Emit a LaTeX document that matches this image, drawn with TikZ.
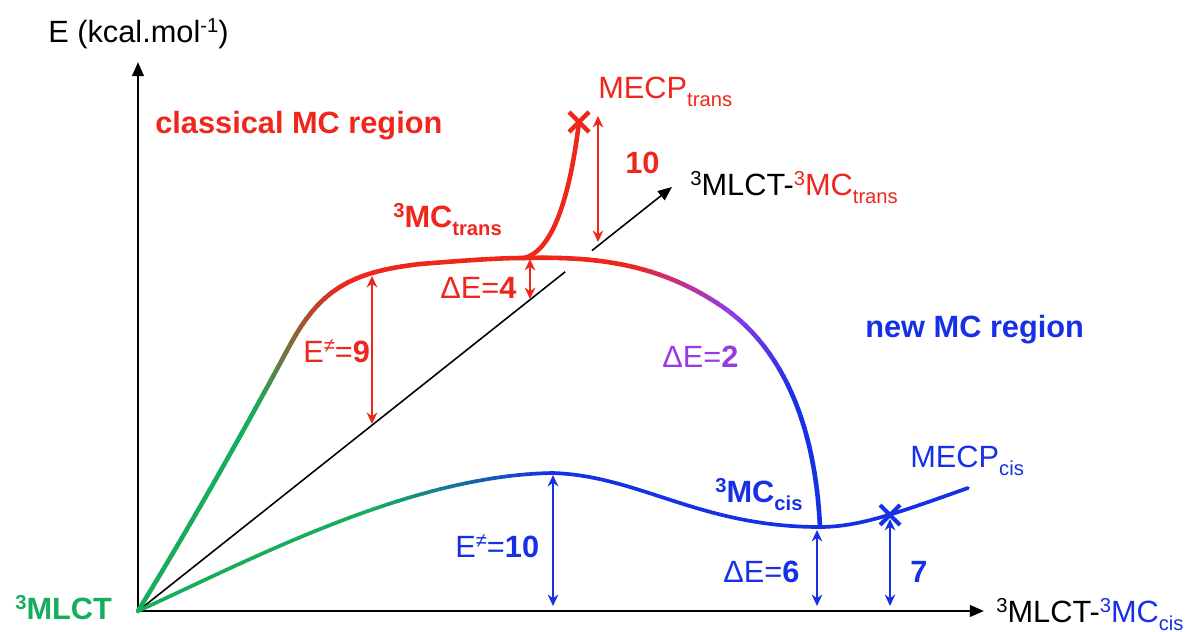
\documentclass[tikz,border=0pt]{standalone}
\usepackage{fontspec}
\setmainfont{Liberation Sans}
\usetikzlibrary{arrows.meta,decorations.markings,calc}
\definecolor{cred}{RGB}{238,38,28}
\definecolor{cblue}{RGB}{22,48,230}
\definecolor{cgreen}{RGB}{22,174,92}
\definecolor{cpurple}{RGB}{150,60,230}
\newcommand\lsup[1]{\raisebox{0.32em}{\fontsize{11.5}{12}\selectfont #1}}
\newcommand\lsub[1]{\raisebox{-0.27em}{\fontsize{11.5}{12}\selectfont #1}}
\tikzset{
  lbl/.style={font=\fontsize{17.5}{21}\selectfont, inner sep=0pt, anchor=base west},
  lblb/.style={font=\fontsize{17.5}{21}\selectfont\bfseries, inner sep=0pt, anchor=base west},
  ax/.style={line width=1.4pt, -{Triangle[length=8pt,width=6.5pt]}},
  diag/.style={line width=0.9pt},
  pes/.style={line width=2.6pt, line cap=round, line join=round},
  pesl/.style={line width=2.1pt, line cap=round, line join=round},
  dbl/.style={{Stealth[length=6.5pt,width=6pt]}-{Stealth[length=6.5pt,width=6pt]}, line width=1.1pt},
  sample/.style={decoration={markings, mark=between positions 0 and 1 step 0.02 with {\coordinate (#1-\pgfkeysvalueof{/pgf/decoration/mark info/sequence number});}}, decorate}
}
% gradient run: prefix, from, to, colA, colB, style
\newcommand\gradrun[6]{%
  \foreach \gi in {#2,...,#3}{%
    \pgfmathtruncatemacro\gj{\gi+1}%
    \pgfmathtruncatemacro\gp{100*(\gi-#2)/(#3-#2+1)}%
    \draw[#6, draw={#5!\gp!#4}] (#1-\gi) -- (#1-\gj);
  }}
\begin{document}
\begin{tikzpicture}[x=0.02cm,y=-0.02cm]
\useasboundingbox (0,0) rectangle (1187,632);
% key points
\coordinate (O) at (138,611);
\coordinate (Ytop) at (138,62);
\coordinate (Xend) at (984,611);
\coordinate (D) at (672,187);
\coordinate (Tm) at (420,264);
\coordinate (Tj) at (524,258);
\coordinate (Mt) at (579,122);
\coordinate (Cm) at (820,527);
\coordinate (Lm) at (553,473);
\coordinate (Mc) at (890,515);
\coordinate (Le) at (968,488);
% axes
\draw[ax] (O) -- (Ytop);
\draw[ax] (O) -- (Xend);
\draw[diag] (O) -- ($(O)!0.80!(D)$);
\draw[diag, -{Triangle[length=8pt,width=6.5pt]}] ($(O)!0.85!(D)$) -- (D);
% arrows
\coordinate (e9t) at (372,276); \coordinate (e9b) at (372,424);
\coordinate (e4t) at (530,259); \coordinate (e4b) at (530,299);
\coordinate (a10t) at (598,116); \coordinate (a10b) at (598,242);
\coordinate (e10t) at (553,475); \coordinate (e10b) at (553,606);
\coordinate (e6t) at (817,530); \coordinate (e6b) at (817,606);
\coordinate (a7t) at (890,519); \coordinate (a7b) at (890,606);
\draw[dbl, cred] (e9t) -- (e9b);
\draw[dbl, cred] (e4t) -- (e4b);
\draw[dbl, cred] (a10t) -- (a10b);
\draw[dbl, cblue] (e10t) -- (e10b);
\draw[dbl, cblue] (e6t) -- (e6b);
\draw[dbl, cblue] (a7t) -- (a7b);
% upper curve, part A (green -> red)
\path[sample=ua] (O) .. controls (200,510) and (255,410) .. (290,345) .. controls (320,290) and (350,272) .. (Tm);
\gradrun{ua}{1}{24}{cgreen}{cgreen}{pes}
\gradrun{ua}{25}{41}{cgreen}{cred}{pes}
\gradrun{ua}{42}{49}{cred}{cred}{pes}
\draw[pes, cred] (ua-50) -- (Tm);
% part B
\draw[pes, cred] (Tm) .. controls (470,260) and (500,258) .. (Tj);
% MECP trans branch
\draw[pes, cred] (Tj) .. controls (550,252) and (569,205) .. (Mt);
% part C (red -> purple -> blue)
\path[sample=uc] (Tj) .. controls (600,256) and (660,265) .. (720,305) .. controls (780,345) and (815,420) .. (Cm);
\gradrun{uc}{1}{11}{cred}{cred}{pes}
\gradrun{uc}{12}{23}{cred}{cpurple}{pes}
\gradrun{uc}{24}{35}{cpurple}{cblue}{pes}
\gradrun{uc}{36}{49}{cblue}{cblue}{pes}
\draw[pes, cblue] (uc-50) -- (Cm);
% lower curve
\path[sample=lo] (O) .. controls (250,560) and (410,475) .. (Lm);
\gradrun{lo}{1}{29}{cgreen}{cgreen}{pesl}
\gradrun{lo}{30}{49}{cgreen}{cblue}{pesl}
\draw[pesl, cblue] (lo-50) -- (Lm);
\draw[pesl, cblue] (Lm) .. controls (640,476) and (700,527) .. (Cm) .. controls (860,527) and (900,512) .. (Le);
% crossings
\draw[cred, line width=2.6pt] ($(Mt)+(-10,-10)$) -- ($(Mt)+(10,10)$) ($(Mt)+(-10,10)$) -- ($(Mt)+(10,-10)$);
\draw[cblue, line width=2.4pt] ($(Mc)+(-10,-10)$) -- ($(Mc)+(10,10)$) ($(Mc)+(-10,10)$) -- ($(Mc)+(10,-10)$);
% labels
\node[lbl] (ylab) at (48,42) {E (kcal.mol\lsup{-1})};
\node[lblb, cred] (cls) at (155,133) {classical MC region};
\node[lbl, cred] (mecpt) at (598,98) {MECP\lsub{trans}};
\node[lblb, cred] (ten) at (625,173) {10};
\node[lblb, cred] (mct) at (393,227) {\lsup{3}MC\lsub{trans}};
\node[lbl, cred] (de4) at (440,298) {ΔE=\textbf{4}};
\node[lbl] (dlab) at (690,195) {\lsup{3}MLCT-\textcolor{cred}{\lsup{3}MC\lsub{trans}}};
\node[lbl, cred] (e9) at (303,362) {E\lsup{≠}=\textbf{9}};
\node[lbl, cpurple] (de2) at (662,367) {ΔE=\textbf{2}};
\node[lblb, cblue] (newmc) at (865,337) {new MC region};
\node[lbl, cblue] (e10) at (455,557) {E\lsup{≠}=\textbf{10}};
\node[lblb, cblue] (mcc) at (715,502) {\lsup{3}MC\lsub{cis}};
\node[lbl, cblue] (mecpc) at (910,467) {MECP\lsub{cis}};
\node[lbl, cblue] (de6) at (723,582) {ΔE=\textbf{6}};
\node[lblb, cblue] (seven) at (910,582) {7};
\node[lbl] (xlab) at (996,622) {\lsup{3}MLCT-\textcolor{cblue}{\lsup{3}MC\lsub{cis}}};
\node[lblb, cgreen] (mlct) at (15,619) {\lsup{3}MLCT};
\end{tikzpicture}
\end{document}
